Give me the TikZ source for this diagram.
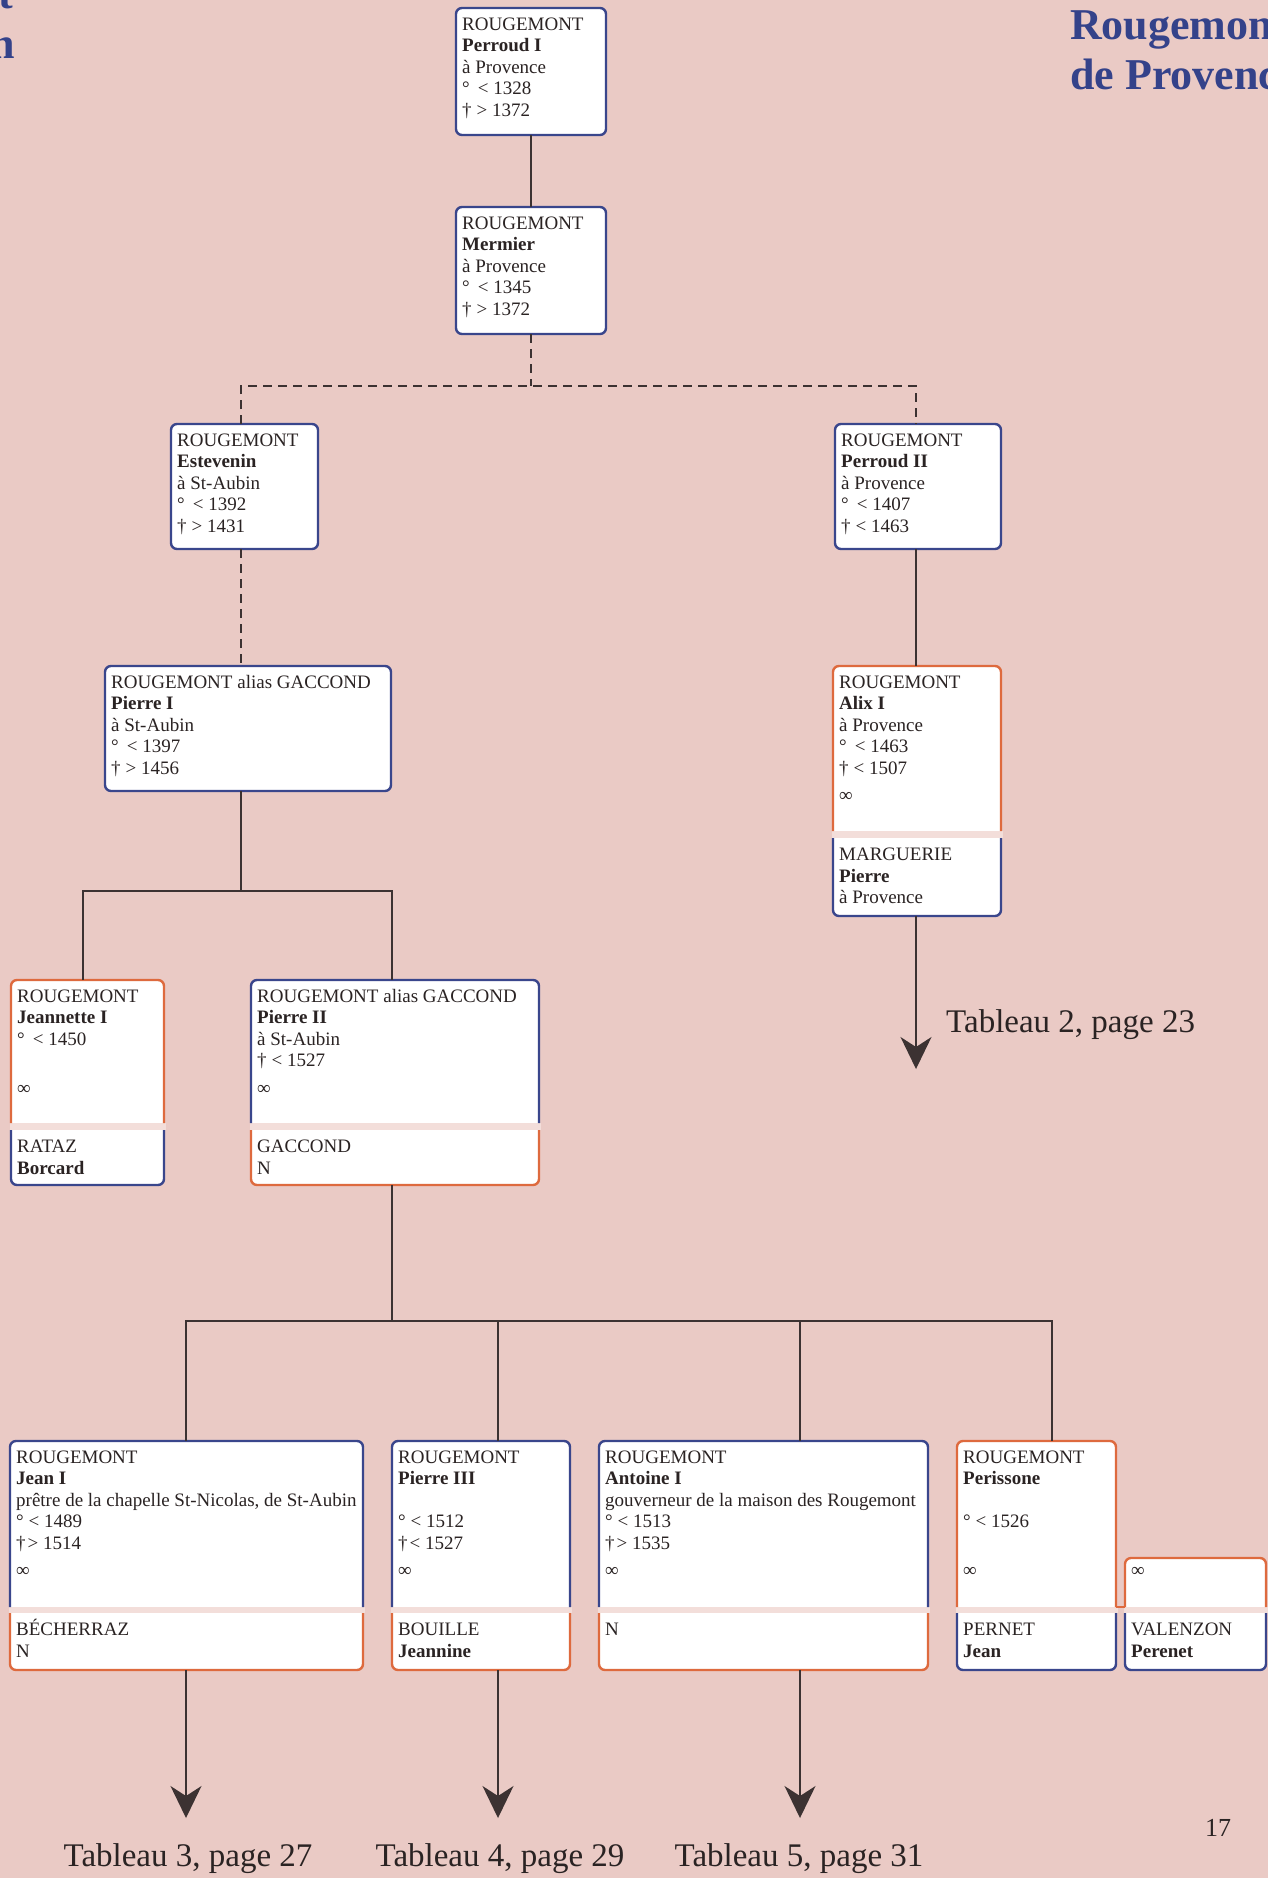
\documentclass[tikz,border=0pt]{standalone}
\usepackage{fontspec}
\setmainfont{Liberation Serif}
\usetikzlibrary{arrows.meta}

\definecolor{pagebg}{RGB}{234,202,197}
\definecolor{lineblue}{RGB}{58,70,140}
\definecolor{lineorange}{RGB}{222,106,62}
\definecolor{stripcol}{RGB}{243,222,218}
\definecolor{inkcol}{RGB}{42,35,35}
\definecolor{linkcol}{RGB}{60,50,50}
\definecolor{titleblue}{RGB}{52,66,138}

\tikzset{
  boxfill/.style={draw=none, fill=white, rounded corners=6pt, inner sep=0pt, outer sep=0pt},
  frame/.style={line width=2.4pt, rounded corners=6pt},
  bframe/.style={frame, draw=lineblue},
  oframe/.style={frame, draw=lineorange},
  entry/.style={anchor=north west, inner sep=0pt, align=left, text=inkcol,
                font=\fontsize{19}{21.5}\selectfont},
  link/.style={draw=linkcol, line width=1.5pt},
  dlink/.style={link, dash pattern=on 9pt off 6pt},
  farrow/.style={link, -{Stealth[length=32pt,width=31pt,inset=10pt]}},
  tabref/.style={text=inkcol, font=\fontsize{33}{37}\selectfont, inner sep=0pt},
  headline/.style={text=titleblue, font=\fontsize{44}{48}\selectfont\bfseries, inner sep=0pt},
}

% first line strut: fixes the distance from the top of an entry to its first baseline
\newcommand\firstln{\rule{0pt}{17pt}}

% a single person: name, x1, x2, ytop, ybottom, frame style
\newcommand\singlebox[6]{%
  \node[boxfill, minimum width={#3-#2}, minimum height={#5-#4}] (#1) at ({(#2+#3)/2},{(#4+#5)/2}) {};
  \draw[#6] (#1.north west) rectangle (#1.south east);
}
% a couple: name, x1, x2, ytop, strip top, strip bottom, ybottom, upper frame, lower frame
\newcommand\couplebox[9]{%
  \node[boxfill, minimum width={#3-#2}, minimum height={#7-#4}] (#1) at ({(#2+#3)/2},{(#4+#7)/2}) {};
  \fill[stripcol] ({#2-1.5},#5) rectangle ({#3+1.5},#6);
  \draw[#8] (#2,#5) -- (#2,#4) -- (#3,#4) -- (#3,#5);
  \draw[#9] (#2,#6) -- (#2,#7) -- (#3,#7) -- (#3,#6);
}

\begin{document}
\begin{tikzpicture}[x=1pt,y=-1pt]
\useasboundingbox (0,0) rectangle (1268,1878);
\fill[pagebg] (0,0) rectangle (1268,1878);
\clip (0,0) rectangle (1268,1878);

% ---------- page headings ----------
\node[headline, anchor=base east] (lhead1) at (13,9) {t};
\node[headline, anchor=base east] (lhead2) at (15,59) {n};
\node[headline, anchor=base west] (rhead1) at (1070,40) {Rougemont};
\node[headline, anchor=base west] (rhead2) at (1070,90) {de Provence};

% ---------- boxes ----------
\singlebox{P1}{456}{606}{8}{135}{bframe}
\singlebox{Me}{456}{606}{207}{334}{bframe}
\singlebox{Es}{171}{318}{424}{549}{bframe}
\singlebox{P2}{835}{1001}{424}{549}{bframe}
\singlebox{PI}{105}{391}{666}{791}{bframe}
\couplebox{Al}{833}{1001}{666}{831}{838}{916}{oframe}{bframe}
\couplebox{Je}{11}{164}{980}{1123}{1130}{1185}{oframe}{bframe}
\couplebox{PII}{251}{539}{980}{1123}{1130}{1185}{bframe}{oframe}
\couplebox{JnI}{10}{363}{1441}{1607}{1613}{1670}{bframe}{oframe}
\couplebox{PIII}{392}{570}{1441}{1607}{1613}{1670}{bframe}{oframe}
\couplebox{An}{599}{928}{1441}{1607}{1613}{1670}{bframe}{oframe}
\couplebox{Pe}{957}{1116}{1441}{1607}{1613}{1670}{oframe}{bframe}
\couplebox{Va}{1125}{1266}{1558}{1607}{1613}{1670}{oframe}{bframe}
\coordinate (joinL) at (1116,1607);
\coordinate (joinR) at (1125,1607);
\draw[oframe, rounded corners=0pt] (joinL) -- (joinR);

% ---------- entries ----------
\node[entry] (tP1) at (462,13) {\firstln ROUGEMONT\\\textbf{Perroud I}\\à Provence\\°\hspace{8pt}< 1328\\†\hspace{5pt}> 1372};
\node[entry] (tMe) at (462,212) {\firstln ROUGEMONT\\\textbf{Mermier}\\à Provence\\°\hspace{8pt}< 1345\\†\hspace{5pt}> 1372};
\node[entry] (tEs) at (177,429) {\firstln ROUGEMONT\\\textbf{Estevenin}\\à St-Aubin\\°\hspace{8pt}< 1392\\†\hspace{5pt}> 1431};
\node[entry] (tP2) at (841,429) {\firstln ROUGEMONT\\\textbf{Perroud II}\\à Provence\\°\hspace{8pt}< 1407\\†\hspace{5pt}< 1463};
\node[entry] (tPI) at (111,671) {\firstln ROUGEMONT alias GACCOND\\\textbf{Pierre I}\\à St-Aubin\\°\hspace{8pt}< 1397\\†\hspace{5pt}> 1456};
\node[entry] (tAl) at (839,671) {\firstln ROUGEMONT\\\textbf{Alix I}\\à Provence\\°\hspace{8pt}< 1463\\†\hspace{5pt}< 1507\\[6pt]∞};
\node[entry] (tMa) at (839,843.5) {\firstln MARGUERIE\\\textbf{Pierre}\\à Provence};
\node[entry] (tJe) at (17,985) {\firstln ROUGEMONT\\\textbf{Jeannette I}\\°\hspace{8pt}< 1450\\\mbox{}\\[6pt]∞};
\node[entry] (tRa) at (17,1135.5) {\firstln RATAZ\\\textbf{Borcard}};
\node[entry] (tPII) at (257,985) {\firstln ROUGEMONT alias GACCOND\\\textbf{Pierre II}\\à St-Aubin\\†\hspace{5pt}< 1527\\[6pt]∞};
\node[entry] (tGa) at (257,1135.5) {\firstln GACCOND\\N};
\node[entry] (tJn) at (16,1446) {\firstln ROUGEMONT\\\textbf{Jean I}\\prêtre de la chapelle St-Nicolas, de St-Aubin\\° < 1489\\†\hspace{2pt}> 1514\\[6pt]∞};
\node[entry] (tBe) at (16,1618.5) {\firstln BÉCHERRAZ\\N};
\node[entry] (tPIII) at (398,1446) {\firstln ROUGEMONT\\\textbf{Pierre III}\\\mbox{}\\° < 1512\\†\hspace{2pt}< 1527\\[6pt]∞};
\node[entry] (tBo) at (398,1618.5) {\firstln BOUILLE\\\textbf{Jeannine}};
\node[entry] (tAn) at (605,1446) {\firstln ROUGEMONT\\\textbf{Antoine I}\\gouverneur de la maison des Rougemont\\° < 1513\\†\hspace{2pt}> 1535\\[6pt]∞};
\node[entry] (tN) at (605,1618.5) {\firstln N};
\node[entry] (tPe) at (963,1446) {\firstln ROUGEMONT\\\textbf{Perissone}\\\mbox{}\\° < 1526\\\mbox{}\\[6pt]∞};
\node[entry] (tPn) at (963,1618.5) {\firstln PERNET\\\textbf{Jean}};
\node[entry, anchor=base west] (tVa1) at (1131,1576.5) {∞};
\node[entry] (tVa2) at (1131,1618.5) {\firstln VALENZON\\\textbf{Perenet}};

% ---------- connectors ----------
\draw[link] (P1.south) -- (Me.north);
\coordinate (jA1) at (241,386);
\coordinate (jA2) at (916,386);
\draw[dlink] (Me.south) -- (Me.south |- jA1);
\draw[dlink] (jA1 |- Es.north) -- (jA1) -- (jA2) -- (jA2 |- P2.north);
\draw[dlink] (jA1 |- Es.south) -- (jA1 |- PI.north);
\draw[link] (jA2 |- P2.south) -- (jA2 |- Al.north);
\coordinate (tip2) at (916,1069);
\draw[farrow] (tip2 |- Al.south) -- (tip2);

\coordinate (jB0) at (241,891);
\coordinate (jB1) at (83,891);
\coordinate (jB2) at (392,891);
\draw[link] (jB0 |- PI.south) -- (jB0);
\draw[link] (jB1 |- Je.north) -- (jB1) -- (jB2) -- (jB2 |- PII.north);

\coordinate (jC0) at (392,1321);
\coordinate (jC1) at (186,1321);
\coordinate (jC2) at (498,1321);
\coordinate (jC3) at (800,1321);
\coordinate (jC4) at (1052,1321);
\draw[link] (jC0 |- PII.south) -- (jC0);
\draw[link] (jC1 |- JnI.north) -- (jC1) -- (jC4) -- (jC4 |- Pe.north);
\draw[link] (jC2) -- (jC2 |- PIII.north);
\draw[link] (jC3) -- (jC3 |- An.north);

\coordinate (tip3) at (186,1818);
\coordinate (tip4) at (498,1818);
\coordinate (tip5) at (800,1818);
\draw[farrow] (tip3 |- JnI.south) -- (tip3);
\draw[farrow] (tip4 |- PIII.south) -- (tip4);
\draw[farrow] (tip5 |- An.south) -- (tip5);

% ---------- references and folio ----------
\node[tabref, anchor=base west] (ref2) at (946,1032) {Tableau 2, page 23};
\node[tabref, anchor=base] (ref3) at (188,1866) {Tableau 3, page 27};
\node[tabref, anchor=base] (ref4) at (500,1866) {Tableau 4, page 29};
\node[tabref, anchor=base] (ref5) at (799,1866) {Tableau 5, page 31};
\node[tabref, font=\fontsize{26}{28}\selectfont, anchor=base] (folio) at (1218,1836) {17};
\end{tikzpicture}
\end{document}
